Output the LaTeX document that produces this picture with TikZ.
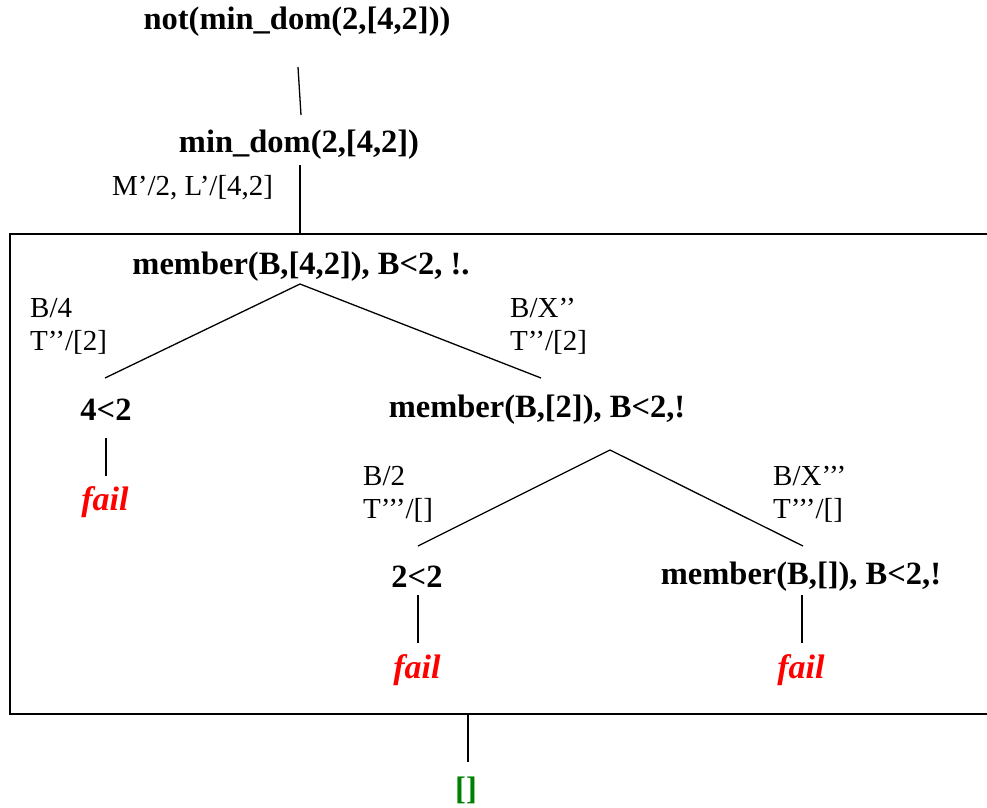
\documentclass[tikz,border=0pt]{standalone}
\usepackage{fontspec}
\setmainfont{Liberation Serif}
\begin{document}
\begin{tikzpicture}[x=1pt,y=-1pt,
  goal/.style={font=\fontsize{32.5}{34}\selectfont\bfseries, inner sep=0pt},
  lab/.style={font=\fontsize{29}{33}\selectfont, inner sep=0pt, align=left, anchor=west},
  failt/.style={font=\fontsize{34}{36}\selectfont\bfseries\itshape, text=red, inner sep=0pt},
  edge/.style={line width=1.3pt}]
\useasboundingbox (0,0) rectangle (987,807);
\node[goal] (root) at (297,22) {not(min\_dom(2,[4,2]))};
\node[goal] (md) at (299,145) {min\_dom(2,[4,2])};
\node[lab] (l0) at (112,188) {M’/2, L’/[4,2]};
\coordinate (r1) at (298,67);
\coordinate (r2) at (301,115);
\draw[edge] (r1) -- (r2);
\coordinate (m1) at (300,165);
\coordinate (m2) at (300,234);
\draw[edge] (m1) -- (m2);
\draw[line width=1.5pt] (995,234) -- (10,234) -- (10,714) -- (995,714);
\node[goal] (g1) at (301,267) {member(B,[4,2]), B<2, !.};
\coordinate (g1b) at (300,284);
\coordinate (a1) at (105,378);
\coordinate (a2) at (541,378);
\draw[edge] (a1) -- (g1b) -- (a2);
\node[lab] (l1) at (30,326) {B/4\\T’’/[2]};
\node[lab] (l2) at (510,326) {B/X’’\\T’’/[2]};
\node[goal] (c1) at (106,410) {4<2};
\coordinate (c1a) at (106,438);
\coordinate (c1b) at (106,476);
\draw[edge] (c1a) -- (c1b);
\node[failt] (f1) at (105,502) {fail};
\node[goal] (g2) at (537,410) {member(B,[2]), B<2,!};
\coordinate (g2b) at (610,450);
\coordinate (b1) at (418,546);
\coordinate (b2) at (803,546);
\draw[edge] (b1) -- (g2b) -- (b2);
\node[lab] (l3) at (363,494) {B/2\\T’’’/[]};
\node[lab] (l4) at (773,494) {B/X’’’\\T’’’/[]};
\node[goal] (c2) at (417,577) {2<2};
\coordinate (c2a) at (418,595);
\coordinate (c2b) at (418,643);
\draw[edge] (c2a) -- (c2b);
\node[failt] (f2) at (417,670) {fail};
\node[goal] (g3) at (801,577) {member(B,[]), B<2,!};
\coordinate (g3a) at (802,595);
\coordinate (g3b) at (802,643);
\draw[edge] (g3a) -- (g3b);
\node[failt] (f3) at (801,670) {fail};
\coordinate (e1) at (468,714);
\coordinate (e2) at (468,762);
\draw[edge] (e1) -- (e2);
\definecolor{okgreen}{RGB}{0,128,0}
\node[goal, text=okgreen] (empty) at (466,790) {[]};
\end{tikzpicture}
\end{document}
